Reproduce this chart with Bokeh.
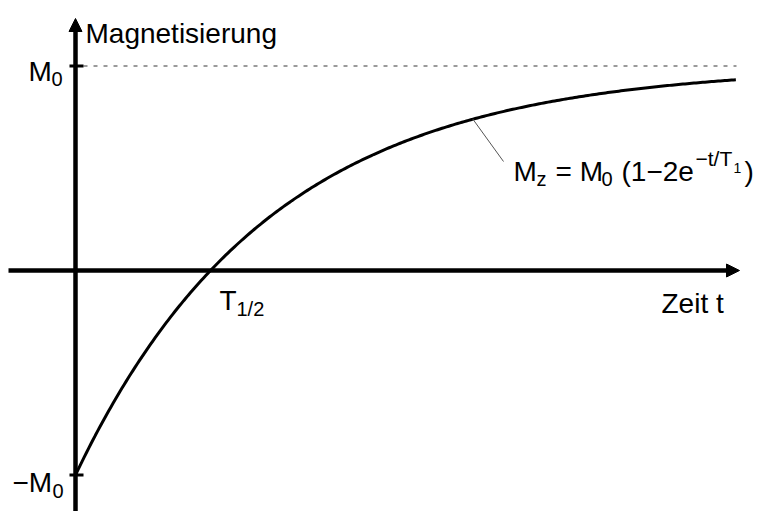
import numpy as np
from bokeh.plotting import figure
from bokeh.models import Range1d, Arrow, NormalHead
from bokeh.core.properties import value
from bokeh.embed import file_html
from bokeh.resources import INLINE

# Relaxation of the longitudinal magnetisation, time in units of T1, M in units of M0
T1 = 1.0
M0 = 1.0
t_end = 3.39
t = np.linspace(0.0, t_end, 300)
Mz = M0 * (1.0 - 2.0 * np.exp(-t / T1))
t_half = T1 * np.log(2.0)          # zero crossing T_1/2
t_leader = 2.04                    # where the formula label points to

# Canvas layout (pixels per unit and origin position)
W, H = 762, 511
ox, oy = 75.0, 270.0
sx, sy = 194.8, 204.5

def X(px):
    return (px - ox) / sx

def Y(py):
    return (oy - py) / sy

p = figure(width=W, height=H, output_backend="svg", toolbar_location=None,
           x_range=Range1d(X(0), X(W)), y_range=Range1d(Y(H), Y(0)),
           min_border=0)
p.axis.visible = False
p.grid.visible = False
p.outline_line_color = None
p.background_fill_color = "white"
p.border_fill_color = "white"

FONT = value("Liberation Sans")
BIG = "28px"
SUB = "20px"

# dashed asymptote at M0
p.line([X(83), X(736)], [M0, M0], line_color="#7a7a7a", line_width=1.5, line_dash="4 6")

# magnetisation curve
p.line(t, Mz, line_color="black", line_width=3)

# leader line from the curve to the formula
p.line([t_leader, X(503)], [M0 * (1 - 2 * np.exp(-t_leader / T1)), Y(161)],
       line_color="#555555", line_width=1)

# axes with arrow heads
p.add_layout(Arrow(end=NormalHead(size=13, line_color="black", fill_color="black", line_width=1),
                   x_start=X(8), y_start=0, x_end=X(739), y_end=0,
                   line_color="black", line_width=4.5))
p.add_layout(Arrow(end=NormalHead(size=13, line_color="black", fill_color="black", line_width=1),
                   x_start=0, y_start=Y(H + 5), x_end=0, y_end=Y(18),
                   line_color="black", line_width=4.5))

# ticks at +M0 and -M0
p.segment(x0=[X(69), X(69)], y0=[M0, -M0], x1=[X(83), X(83)], y1=[M0, -M0],
          line_color="black", line_width=3)

def txt(px, py, s, size=BIG):
    p.text(x=[X(px)], y=[Y(py)], text=[s], text_font=FONT, text_font_size=size,
           text_color="black", text_baseline="alphabetic", text_align="left")

# axis titles
txt(85, 33, "Magnetisierung")
txt(661, 303, "Zeit t")

# tick labels
txt(28, 71, "M")
txt(51, 78, "0", SUB)
txt(12, 482, "−M")
txt(52, 490, "0", SUB)
txt(219, 300, "T")
txt(236, 308, "1/2", SUB)

# formula
txt(513, 171, "M")
txt(536, 178, "z", SUB)
txt(555, 171, "= M")
txt(601, 178, "0", SUB)
txt(621, 171, "(1−2e")
txt(695, 158, "−t/T", "21px")
txt(733, 167, "1", "14px")
txt(744, 171, ")")

open("out.html", "w").write(file_html(p, INLINE))
